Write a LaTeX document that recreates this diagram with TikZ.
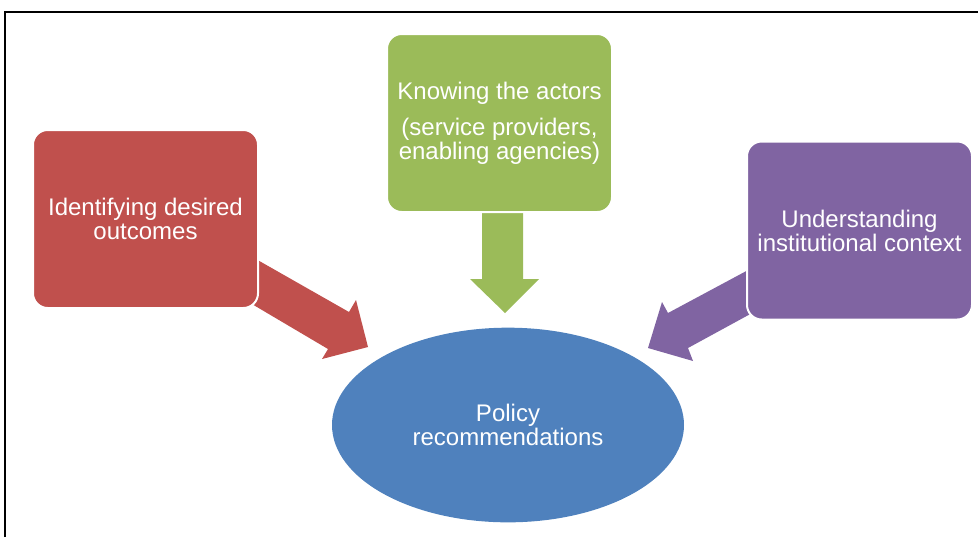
\documentclass[tikz,border=0pt]{standalone}
\usepackage{fontspec}
\setmainfont{Liberation Sans}
\usetikzlibrary{shapes.geometric}
\definecolor{cred}{HTML}{C0504D}
\definecolor{cgreen}{HTML}{9BBB59}
\definecolor{cpurple}{HTML}{8064A2}
\definecolor{cblue}{HTML}{4F81BD}
\tikzset{
  box/.style={rectangle, rounded corners=11pt, draw=white, line width=1.5pt,
    minimum width=168.75pt, minimum height=133.5pt, inner sep=0pt,
    text=white, align=center, font=\fontsize{18}{18}\selectfont},
  blob/.style={ellipse, fill=cblue, minimum width=264pt, minimum height=146pt,
    inner sep=0pt, text=white, align=center, font=\fontsize{18}{18}\selectfont},
  frame/.style={draw=black, line width=0.8pt}
}
\begin{document}
\begin{tikzpicture}[x=0.75pt,y=-0.75pt]
\useasboundingbox (0,0) rectangle (978,537);
\draw[frame] (5,537) -- (5,12) -- (978,12);
% arrows (block shapes)
\fill[cred] (240,250) -- (349,312) -- (356,300) -- (368,347) -- (322,359) -- (328,349) -- (240,297) -- cycle;
\fill[cgreen] (482,205) -- (523,205) -- (523,279) -- (539,279) -- (505,313) -- (470,279) -- (482,279) -- cycle;
\fill[cpurple] (765,261) -- (668,313) -- (662,302) -- (648,348) -- (693,361) -- (688,348) -- (765,306) -- cycle;
% nodes
\node[blob] (policy) at (508,425) {Policy\\recommendations};
\node[box, fill=cred] (outcomes) at (145.5,219) {Identifying desired\\outcomes};
\node[box, fill=cgreen] (actors) at (499.5,123) {Knowing the actors\\[9pt](service providers,\\enabling agencies)};
\node[box, fill=cpurple] (context) at (859.5,230.5) {Understanding\\institutional context};
\end{tikzpicture}
\end{document}
